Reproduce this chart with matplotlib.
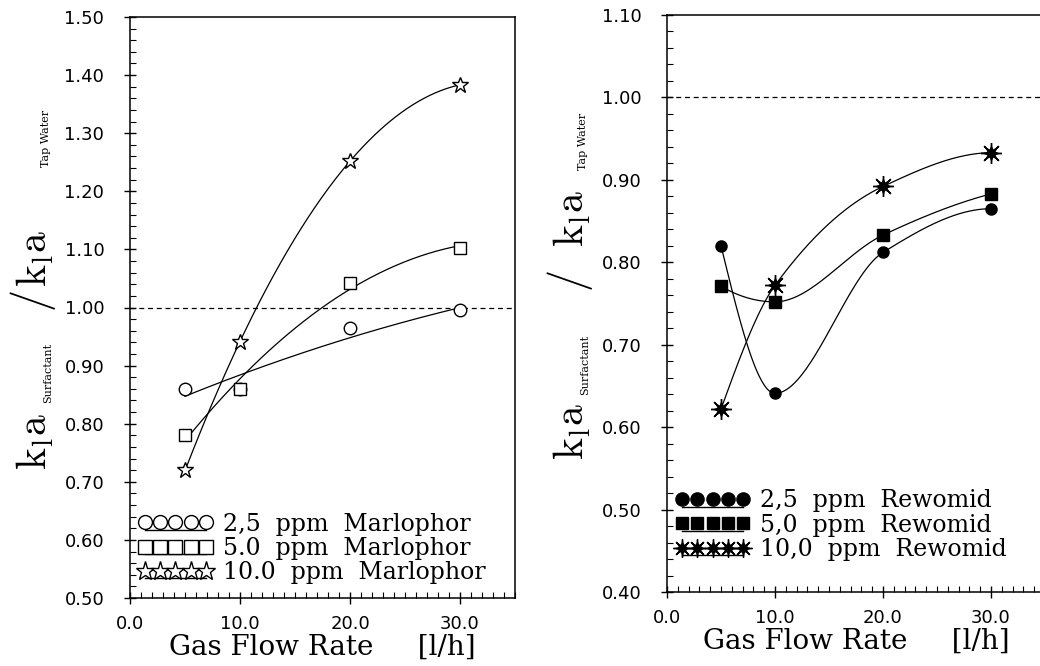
import numpy as np
import matplotlib
matplotlib.use('Agg')
import matplotlib.pyplot as plt
from matplotlib.lines import Line2D
from matplotlib.legend_handler import HandlerLine2D, HandlerTuple
from matplotlib.ticker import MultipleLocator, FormatStrFormatter

# gas flow rate [l/h]
flow = [5, 10, 20, 30]

# kLa(surfactant) / kLa(tap water), Marlophor
marl_25 = [0.86, 0.86, 0.964, 0.995]
marl_50 = [0.78, 0.86, 1.043, 1.103]
marl_100 = [0.72, 0.94, 1.253, 1.383]
marl_labels = ['2,5  ppm  Marlophor', '5.0  ppm  Marlophor', '10.0  ppm  Marlophor']

# kLa(surfactant) / kLa(tap water), Rewomid
rewo_25 = [0.82, 0.641, 0.812, 0.865]
rewo_50 = [0.771, 0.752, 0.833, 0.883]
rewo_100 = [0.622, 0.772, 0.892, 0.933]
rewo_labels = ['2,5  ppm  Rewomid', '5,0  ppm  Rewomid', '10,0  ppm  Rewomid']

tap_water = 1.0

plt.rcParams['mathtext.fontset'] = 'cm'
serif = 'DejaVu Serif'
W, H = 1040, 666


def fit_curve(x, y, deg=2):
    # least squares trend line (left panel)
    c = np.polyfit(x, y, deg)
    xs = np.linspace(min(x), max(x), 200)
    return xs, np.polyval(c, xs)


def pchip(x, y, n=200):
    # smooth monotone curve through the points (right panel)
    x = np.asarray(x, float)
    y = np.asarray(y, float)
    h = np.diff(x)
    d = np.diff(y) / h
    m = np.zeros_like(y)
    for k in range(1, len(x) - 1):
        if d[k - 1] * d[k] > 0:
            w1 = 2 * h[k] + h[k - 1]
            w2 = h[k] + 2 * h[k - 1]
            m[k] = (w1 + w2) / (w1 / d[k - 1] + w2 / d[k])

    def end(h0, h1, d0, d1):
        s = ((2 * h0 + h1) * d0 - h0 * d1) / (h0 + h1)
        if np.sign(s) != np.sign(d0):
            return 0.0
        if np.sign(d0) != np.sign(d1) and abs(s) > abs(3 * d0):
            return 3 * d0
        return s

    m[0] = end(h[0], h[1], d[0], d[1])
    m[-1] = end(h[-1], h[-2], d[-1], d[-2])
    xs = np.linspace(x[0], x[-1], n)
    i = np.clip(np.searchsorted(x, xs) - 1, 0, len(h) - 1)
    t = (xs - x[i]) / h[i]
    ys = ((2 * t**3 - 3 * t**2 + 1) * y[i] + (t**3 - 2 * t**2 + t) * h[i] * m[i]
          + (-2 * t**3 + 3 * t**2) * y[i + 1] + (t**3 - t**2) * h[i] * m[i + 1])
    return xs, ys


class LowLine(HandlerLine2D):
    # legend underline drawn below the row of markers
    def __init__(self, drop, **kw):
        super().__init__(**kw)
        self.drop = drop

    def create_artists(self, legend, orig_handle, xdescent, ydescent,
                       width, height, fontsize, trans):
        arts = super().create_artists(legend, orig_handle, xdescent, ydescent,
                                      width, height, fontsize, trans)
        for a in arts:
            a.set_ydata(np.asarray(a.get_ydata()) - self.drop)
        return arts


def style_axes(ax, ymin, ymax):
    ax.set_xlim(0, 35)
    ax.set_ylim(ymin, ymax)
    ax.xaxis.set_major_locator(MultipleLocator(10))
    ax.xaxis.set_minor_locator(MultipleLocator(1))
    ax.yaxis.set_major_locator(MultipleLocator(0.1))
    ax.yaxis.set_minor_locator(MultipleLocator(0.02))
    ax.xaxis.set_major_formatter(FormatStrFormatter('%.1f'))
    ax.yaxis.set_major_formatter(FormatStrFormatter('%.2f'))
    ax.tick_params(which='major', direction='inout', length=9, width=1,
                   labelsize=13, top=False, right=False)
    ax.tick_params(which='minor', direction='in', length=4.5, width=0.8,
                   top=False, right=False)
    ax.tick_params(axis='y', which='major', pad=14)
    ax.tick_params(axis='x', which='major', pad=8)
    for s in ax.spines.values():
        s.set_linewidth(1.1)
    ax.axhline(tap_water, ls=(0, (4, 3)), lw=0.9, color='black')
    ax.set_xlabel('Gas Flow Rate     [l/h]', family=serif, fontsize=20, labelpad=0)


def add_ylabel(pieces, dx, ys):
    for (xb, txt, size), y in zip(pieces, ys):
        fig.text((xb + dx) / W, 1 - y / H, txt, rotation=90, rotation_mode='anchor',
                 ha='left', va='baseline', fontsize=size, family=serif)


def add_legend(ax, handles, labels, hmap, anchor):
    hmap[tuple] = HandlerTuple(ndivide=1, pad=0)
    ax.legend(handles, labels, loc='lower left', bbox_to_anchor=anchor,
              numpoints=5, handlelength=3.2, handletextpad=0.4, labelspacing=0.05,
              borderpad=0, borderaxespad=0, frameon=False, handler_map=hmap,
              prop={'family': serif, 'size': 17})


fig = plt.figure(figsize=(10.4, 6.66), dpi=100)
axL = fig.add_axes([130 / W, 68 / H, 385 / W, 581 / H])
axR = fig.add_axes([667 / W, 74 / H, 378 / W, 577 / H])

ka = r'$\mathrm{k}_{\mathrm{l}}\mathrm{a}$'
pieces = [(47, ka, 30), (51, 'Surfactant', 8), (45, r'$/$', 32),
          (47, ka, 30), (49, 'Tap Water', 8)]

# ---- left: Marlophor (open symbols)
style_axes(axL, 0.5, 1.5)
open_kw = dict(ls='none', mfc='white', mec='black', mew=1)
handles, hmap = [], {}
for vals, m, ms, lms in [(marl_25, 'o', 9, 10), (marl_50, 's', 8, 9.5),
                         (marl_100, '*', 12, 14)]:
    xs, ys = fit_curve(flow, vals)
    axL.plot(xs, ys, color='black', lw=0.9)
    axL.plot(flow, vals, marker=m, ms=ms, zorder=3, **open_kw)
    under = Line2D([], [], color='black', lw=1)
    hmap[under] = LowLine(drop=5.5)
    handles.append((under, Line2D([], [], marker=m, ms=lms, **open_kw)))
add_legend(axL, handles, marl_labels, hmap, (0.02, 0.024))
add_ylabel(pieces, 0, [470, 403, 312, 287, 167])

# ---- right: Rewomid (filled symbols)
style_axes(axR, 0.4, 1.1)
fill_kw = dict(ls='none', mfc='black', mec='black')
handles, hmap = [], {}
for vals, m, lms in [(rewo_25, 'o', 9.5), (rewo_50, 's', 9)]:
    xs, ys = pchip(flow, vals)
    axR.plot(xs, ys, color='black', lw=0.9)
    axR.plot(flow, vals, marker=m, ms=8, zorder=3, **fill_kw)
    under = Line2D([], [], color='black', lw=1)
    hmap[under] = LowLine(drop=5.5)
    handles.append((under, Line2D([], [], marker=m, ms=lms, **fill_kw)))
xs, ys = pchip(flow, rewo_100)
axR.plot(xs, ys, color='black', lw=0.9)
axR.plot(flow, rewo_100, marker=(8, 1, 0), ms=10, zorder=3, **fill_kw)
axR.plot(flow, rewo_100, marker=(8, 2, 0), ms=15, mew=1, zorder=3, **fill_kw)
under = Line2D([], [], color='black', lw=1)
hmap[under] = LowLine(drop=5.5)
handles.append((under, Line2D([], [], marker=(8, 1, 0), ms=9, **fill_kw),
                Line2D([], [], marker=(8, 2, 0), ms=13, mew=1, **fill_kw)))
add_legend(axR, handles, rewo_labels, hmap, (0.021, 0.054))
add_ylabel(pieces, 537, [460, 395, 292, 247, 170])

fig.savefig('out.png', dpi=100)
